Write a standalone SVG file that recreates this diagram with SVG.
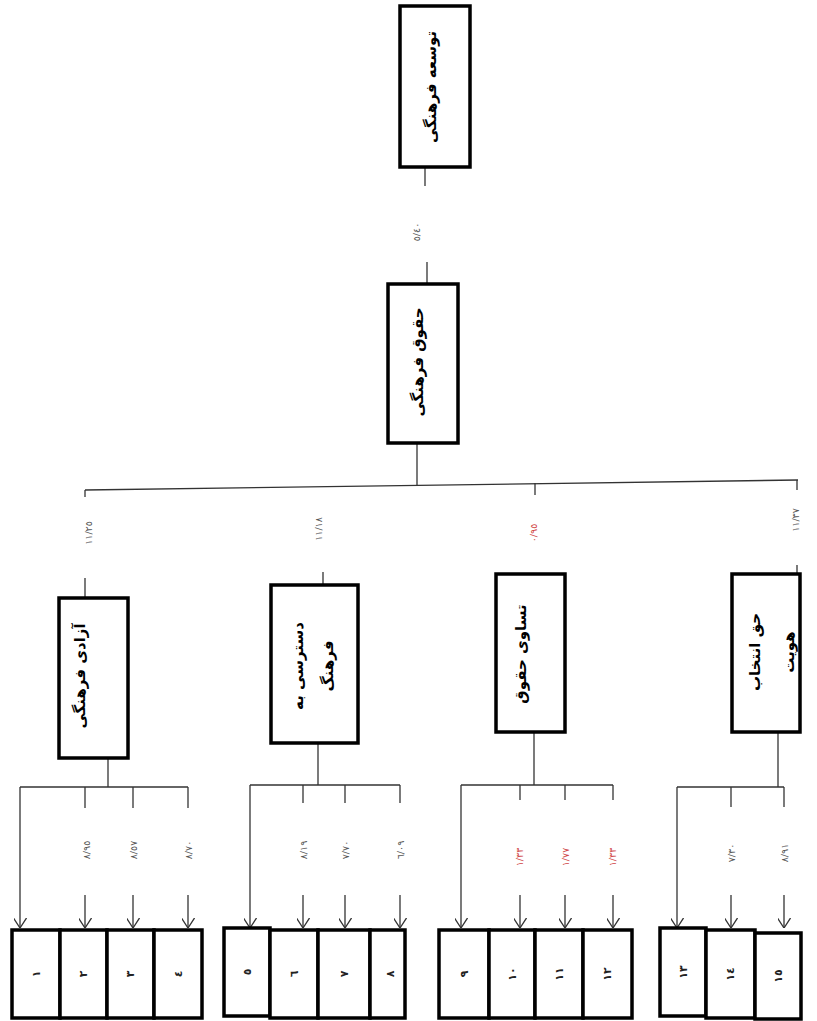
<svg xmlns="http://www.w3.org/2000/svg" width="817" height="1021" viewBox="0 0 817 1021">
<style>
.box{fill:#fff;stroke:#000;stroke-width:3.5}
.ln{fill:none;stroke:#333;stroke-width:1.3}
.t{font-family:"DejaVu Sans",sans-serif;font-weight:bold;font-size:15px;fill:#000;text-anchor:middle;dominant-baseline:central}
.n{font-family:"DejaVu Sans",sans-serif;font-size:9.5px;fill:#555;text-anchor:middle;dominant-baseline:central}
.r{fill:#d04545}
.b{font-family:"DejaVu Sans",sans-serif;font-weight:bold;font-size:11px;fill:#222;text-anchor:middle;dominant-baseline:central}
</style>
<defs>
<marker id="ar" viewBox="0 0 10 13" markerWidth="10" markerHeight="13" refX="10" refY="6.5" orient="auto" markerUnits="userSpaceOnUse">
<path d="M0,0 L10,6.5 L0,13" fill="none" stroke="#333" stroke-width="1.3"/>
</marker>
</defs>
<rect width="817" height="1021" fill="#fff"/>
<g id="connectors">
<line class="ln" x1="425" y1="167" x2="425" y2="186"/>
<line class="ln" x1="427" y1="262" x2="427" y2="284"/>
<line class="ln" x1="417" y1="443" x2="417" y2="486"/>
<line class="ln" x1="85" y1="490" x2="798" y2="480"/>
<line class="ln" x1="85" y1="490" x2="85" y2="497"/>
<line class="ln" x1="85" y1="578" x2="85" y2="598"/>
<line class="ln" x1="323" y1="572" x2="323" y2="585"/>
<line class="ln" x1="535" y1="483" x2="535" y2="495"/>
<line class="ln" x1="797" y1="480" x2="797" y2="490"/>
<line class="ln" x1="797" y1="565" x2="797" y2="574"/>
<line class="ln" x1="108" y1="758" x2="108" y2="787"/>
<line class="ln" x1="20" y1="787" x2="188" y2="787"/>
<line class="ln" x1="20" y1="787" x2="20" y2="928" marker-end="url(#ar)"/>
<line class="ln" x1="85" y1="787" x2="85" y2="808"/>
<line class="ln" x1="133" y1="787" x2="133" y2="808"/>
<line class="ln" x1="188" y1="787" x2="188" y2="808"/>
<line class="ln" x1="85" y1="895" x2="85" y2="928" marker-end="url(#ar)"/>
<line class="ln" x1="133" y1="895" x2="133" y2="928" marker-end="url(#ar)"/>
<line class="ln" x1="188" y1="895" x2="188" y2="928" marker-end="url(#ar)"/>
<line class="ln" x1="318" y1="743" x2="318" y2="785"/>
<line class="ln" x1="250" y1="785" x2="400" y2="785"/>
<line class="ln" x1="250" y1="785" x2="250" y2="928" marker-end="url(#ar)"/>
<line class="ln" x1="303" y1="785" x2="303" y2="803"/>
<line class="ln" x1="345" y1="785" x2="345" y2="803"/>
<line class="ln" x1="400" y1="785" x2="400" y2="803"/>
<line class="ln" x1="303" y1="895" x2="303" y2="928" marker-end="url(#ar)"/>
<line class="ln" x1="345" y1="895" x2="345" y2="928" marker-end="url(#ar)"/>
<line class="ln" x1="400" y1="895" x2="400" y2="928" marker-end="url(#ar)"/>
<line class="ln" x1="534" y1="732" x2="534" y2="785"/>
<line class="ln" x1="461" y1="785" x2="613" y2="785"/>
<line class="ln" x1="461" y1="785" x2="461" y2="928" marker-end="url(#ar)"/>
<line class="ln" x1="520" y1="785" x2="520" y2="800"/>
<line class="ln" x1="565" y1="785" x2="565" y2="800"/>
<line class="ln" x1="613" y1="785" x2="613" y2="800"/>
<line class="ln" x1="520" y1="895" x2="520" y2="928" marker-end="url(#ar)"/>
<line class="ln" x1="565" y1="895" x2="565" y2="928" marker-end="url(#ar)"/>
<line class="ln" x1="613" y1="895" x2="613" y2="928" marker-end="url(#ar)"/>
<line class="ln" x1="778" y1="732" x2="778" y2="787"/>
<line class="ln" x1="677" y1="787" x2="784" y2="787"/>
<line class="ln" x1="677" y1="787" x2="677" y2="928" marker-end="url(#ar)"/>
<line class="ln" x1="731" y1="787" x2="731" y2="807"/>
<line class="ln" x1="784" y1="787" x2="784" y2="807"/>
<line class="ln" x1="731" y1="895" x2="731" y2="928" marker-end="url(#ar)"/>
<line class="ln" x1="784" y1="895" x2="784" y2="928" marker-end="url(#ar)"/>
</g>
<g id="labels">
<text class="n" transform="translate(416,232) rotate(-90)">٥/٤٠</text>
<text class="n" transform="translate(88,533) rotate(-90)">۱۱/۲٥</text>
<text class="n" transform="translate(318,529) rotate(-90)">۱۱/۱۸</text>
<text class="n r" transform="translate(533,533) rotate(-90)">۰/۹٥</text>
<text class="n" transform="translate(795,520) rotate(-90)">۱۱/۳۷</text>
<text class="n" transform="translate(86,850) rotate(-90)">۸/۹٥</text>
<text class="n" transform="translate(133,850) rotate(-90)">۸/٥۷</text>
<text class="n" transform="translate(188,850) rotate(-90)">۸/۷۰</text>
<text class="n" transform="translate(303,850) rotate(-90)">۸/۱۹</text>
<text class="n" transform="translate(345,850) rotate(-90)">۷/۷۰</text>
<text class="n" transform="translate(400,850) rotate(-90)">٦/۰۹</text>
<text class="n r" transform="translate(519,857) rotate(-90)">۱/۳۳</text>
<text class="n r" transform="translate(565,857) rotate(-90)">۱/۷۷</text>
<text class="n r" transform="translate(612,857) rotate(-90)">۱/۳۳</text>
<text class="n" transform="translate(731,853) rotate(-90)">۷/۳۰</text>
<text class="n" transform="translate(784,853) rotate(-90)">۸/۹۱</text>
</g>
<g id="n-top">
<rect class="box" x="400" y="6" width="70" height="161"/>
<text class="t" transform="translate(431,87) rotate(-90)">توسعه فرهنگی</text>
</g>
<g id="n-rights">
<rect class="box" x="388" y="284" width="70" height="159"/>
<text class="t" transform="translate(418,362) rotate(-90)">حقوق فرهنگی</text>
</g>
<g id="n-freedom">
<rect class="box" x="59" y="598" width="69" height="160"/>
<text class="t" transform="translate(80,676) rotate(-90)">آزادی فرهنگی</text>
</g>
<g id="n-access">
<rect class="box" x="271" y="585" width="87" height="158"/>
<text class="t" transform="translate(298,666) rotate(-90)">دسترسی به</text>
<text class="t" transform="translate(328,666) rotate(-90)">فرهنگ</text>
</g>
<g id="n-equality">
<rect class="box" x="496" y="574" width="69" height="158"/>
<text class="t" transform="translate(521,654) rotate(-90)">تساوی حقوق</text>
</g>
<g id="n-identity">
<rect class="box" x="732" y="574" width="68" height="158"/>
<text class="t" transform="translate(755,652) rotate(-90)">حق انتخاب</text>
<text class="t" transform="translate(789,652) rotate(-90)">هویت</text>
</g>
<g id="n-1"><rect class="box" x="12" y="930" width="48" height="88"/><text class="b" transform="translate(36,974) rotate(-90)">۱</text></g>
<g id="n-2"><rect class="box" x="60" y="930" width="47" height="88"/><text class="b" transform="translate(83,974) rotate(-90)">۲</text></g>
<g id="n-3"><rect class="box" x="107" y="930" width="47" height="88"/><text class="b" transform="translate(130,974) rotate(-90)">۳</text></g>
<g id="n-4"><rect class="box" x="154" y="930" width="48" height="88"/><text class="b" transform="translate(178,974) rotate(-90)">٤</text></g>
<g id="n-5"><rect class="box" x="224" y="928" width="46" height="88"/><text class="b" transform="translate(247,972) rotate(-90)">٥</text></g>
<g id="n-6"><rect class="box" x="270" y="930" width="48" height="88"/><text class="b" transform="translate(294,974) rotate(-90)">٦</text></g>
<g id="n-7"><rect class="box" x="318" y="930" width="52" height="88"/><text class="b" transform="translate(344,974) rotate(-90)">۷</text></g>
<g id="n-8"><rect class="box" x="370" y="930" width="35" height="88"/><text class="b" transform="translate(390,974) rotate(-90)">۸</text></g>
<g id="n-9"><rect class="box" x="439" y="930" width="50" height="88"/><text class="b" transform="translate(464,974) rotate(-90)">۹</text></g>
<g id="n-10"><rect class="box" x="489" y="930" width="46" height="88"/><text class="b" transform="translate(512,974) rotate(-90)">۱۰</text></g>
<g id="n-11"><rect class="box" x="535" y="930" width="48" height="88"/><text class="b" transform="translate(559,974) rotate(-90)">۱۱</text></g>
<g id="n-12"><rect class="box" x="583" y="930" width="49" height="88"/><text class="b" transform="translate(607,974) rotate(-90)">۱۲</text></g>
<g id="n-13"><rect class="box" x="660" y="928" width="46" height="88"/><text class="b" transform="translate(683,972) rotate(-90)">۱۳</text></g>
<g id="n-14"><rect class="box" x="706" y="930" width="49" height="88"/><text class="b" transform="translate(730,974) rotate(-90)">۱٤</text></g>
<g id="n-15"><rect class="box" x="755" y="933" width="46" height="86"/><text class="b" transform="translate(778,976) rotate(-90)">۱٥</text></g>
</svg>
